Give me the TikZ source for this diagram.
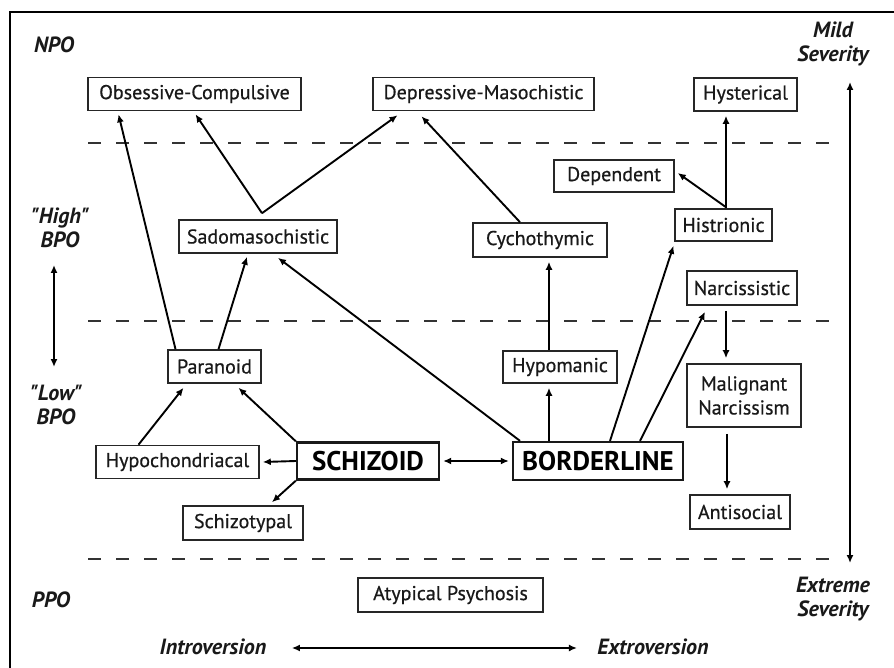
\documentclass[tikz,border=0pt]{standalone}
\usepackage{fontspec}
\setmainfont{PT Sans}[Ligatures=TeXOff]
\newfontfamily\boxfont{PT Sans}[Ligatures=TeXOff,FakeBold=0.6]
\usetikzlibrary{arrows.meta,calc}
\begin{document}
\begin{tikzpicture}[x=1pt,y=-1pt,
 box/.style={draw=black!85,line width=1.6pt,minimum height=33pt,inner xsep=1pt,inner ysep=2pt,align=center,font=\boxfont\fontsize{20}{24}\selectfont,text=black!90},
 bigbox/.style={draw=black!90,line width=2.3pt,minimum height=38pt,inner xsep=1pt,font=\bfseries\fontsize{27}{30}\selectfont},
 lbl/.style={font=\bfseries\itshape\fontsize{22}{24}\selectfont,align=center,text=black!90},
 arr/.style={-{Latex[length=8pt,width=7pt]},line width=1.9pt},
 darr/.style={{Latex[length=8pt,width=7pt]}-{Latex[length=8pt,width=7pt]},line width=1.9pt},
 level/.style={dash pattern=on 13pt off 15pt,line width=2.5pt,draw=black!80}]

\useasboundingbox (0,0) rectangle (894,668);
\fill[white] (0,0) rectangle (894,668);
\draw[line width=2.5pt] (10,668) -- (10,12) -- (894,12);

% levels
\draw[level] (88,143) -- (833,143);
\draw[level] (88,321) -- (833,321);
\draw[level] (88,559) -- (833,559);

% side labels
\node[lbl] (npo) at (54,45) {NPO};
\node[lbl] (high) at (60,228) {"High"\\BPO};
\node[lbl] (low) at (56,405) {"Low"\\BPO};
\node[lbl] (ppo) at (51,600) {PPO};
\node[lbl] (mild) at (833,44) {Mild\\Severity};
\node[lbl] (extreme) at (833,599) {Extreme\\Severity};
\node[lbl] (intro) at (213,647) {Introversion};
\node[lbl] (extro) at (653,647) {Extroversion};

% boxes
\node[box,minimum width=213pt] (oc) at (194.5,94) {Obsessive-Compulsive};
\node[box,minimum width=221pt] (dm) at (483.5,94) {Depressive-Masochistic};
\node[box,minimum width=103pt] (hys) at (745.5,94.5) {Hysterical};
\node[box,minimum width=120pt,minimum height=32pt] (dep) at (614,176) {Dependent};
\node[box,minimum width=97pt,minimum height=32pt] (his) at (723.5,225) {Histrionic};
\node[box,minimum width=158pt] (sado) at (258,236.5) {Sadomasochistic};
\node[box,minimum width=134pt,minimum height=34pt] (cyc) at (540,240) {Cychothymic};
\node[box,minimum width=110pt,minimum height=34pt] (nar) at (742,288) {Narcissistic};
\node[box,minimum width=93pt] (par) at (214.5,366.5) {Paranoid};
\node[box,minimum width=114pt,minimum height=32pt] (hyp) at (560,367) {Hypomanic};
\node[box,minimum width=114pt,minimum height=63pt] (mal) at (744,395.5) {Malignant\\Narcissism};
\node[box,minimum width=163pt] (hypo) at (177.5,462) {Hypochondriacal};
\node[bigbox,minimum width=142pt,minimum height=37pt] (sch) at (368,461) {SCHIZOID};
\node[bigbox,minimum width=170pt] (bl) at (598,461) {BORDERLINE};
\node[box,minimum width=120pt,minimum height=34pt] (szt) at (243,523) {Schizotypal};
\node[box,minimum width=100pt,minimum height=34pt] (ant) at (740,512) {Antisocial};
\node[box,minimum width=185pt,minimum height=34pt] (aty) at (450.5,595) {Atypical Psychosis};

% side arrows
\coordinate (sevtop) at (850,82);
\coordinate (sevbot) at (850,563);
\draw[darr] (sevtop) -- (sevbot);
\coordinate (bpotop) at (54,265);
\coordinate (bpobot) at (54,367);
\draw[darr] (bpotop) -- (bpobot);
\draw[darr] ($(intro.east)+(22,1)$) -- ($(extro.west)+(-17,1)$);

% connectors
\draw[arr] ($(par.north)+(-39,0)$) -- ($(oc.south)+(-76,3)$);
\draw[arr] ($(par.north)+(4,0)$) -- ($(sado.south)+(-11,3)$);
\coordinate (v) at ($(sado.north)+(4,-6)$);
\draw[arr] (v) -- ($(oc.south)+(1,3)$);
\draw[arr] (v) -- ($(dm.south)+(-86,4)$);
\draw[arr] ($(cyc.north)+(-20,0)$) -- ($(dm.south)+(-62,5)$);
\draw[arr] ($(hyp.north)+(-11,0)$) -- ($(cyc.south)+(9,4)$);
\draw[arr] ($(bl.north)+(-49,0)$) -- ($(hyp.south)+(-11,4)$);
\draw[arr] ($(bl.north)+(-78,0)$) -- ($(sado.south)+(20,4)$);
\draw[arr] ($(bl.north)+(12,0)$) -- ($(his.south)+(-50,4)$);
\draw[arr] ($(bl.north)+(42,0)$) -- ($(nar.south)+(-37,6)$);
\draw[arr] ($(his.north)+(2.5,0)$) -- ($(hys.south)+(-19.5,4)$);
\draw[arr] ($(his.north)+(2.5,-1)$) -- ($(dep.east)+(3,-3)$);
\draw[arr] ($(nar.south)+(-16,5)$) -- ($(mal.north)+(-18,-5)$);
\draw[arr] ($(mal.south)+(-17,6)$) -- ($(ant.north)+(-13,-5)$);
\draw[darr] ($(sch.east)+(3,0)$) -- ($(bl.west)+(-3,0)$);
\draw[arr] (sch.west) -- ($(hypo.east)+(3,0)$);
\draw[arr] (sch.north west) -- ($(par.south)+(24,4)$);
\draw[arr] ($(hypo.north)+(-39,0)$) -- ($(par.south)+(-31,4)$);
\draw[arr] (sch.south west) -- ($(szt.north)+(29,-3)$);
\end{tikzpicture}
\end{document}
